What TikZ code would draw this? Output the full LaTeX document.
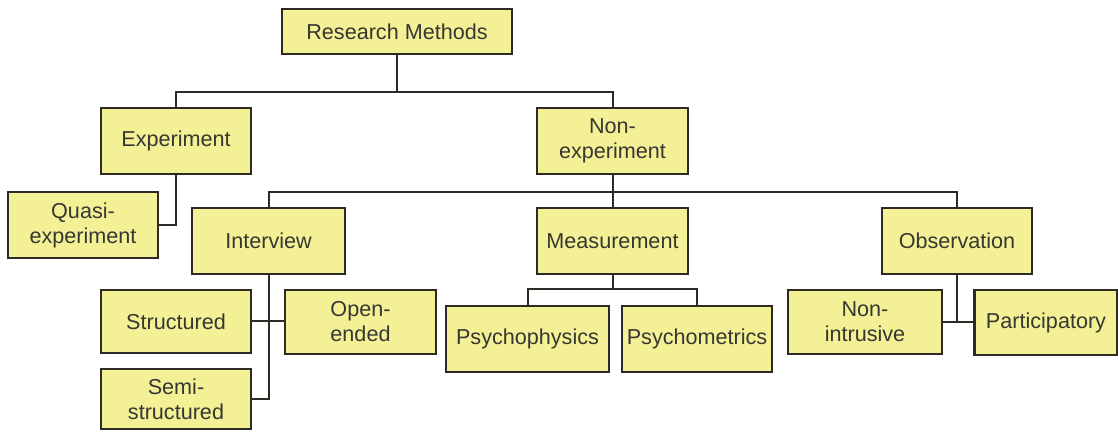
\documentclass[tikz,border=0pt]{standalone}
\usepackage{fontspec}
\setmainfont{Liberation Sans}
\usepackage{tikz}
\definecolor{boxfill}{RGB}{243,240,150}
\definecolor{boxline}{RGB}{45,43,35}
\definecolor{boxtext}{RGB}{55,55,50}

\begin{document}
\begin{tikzpicture}[x=0.5pt, y=-0.5pt,
		methodbox/.style={draw=boxline, line width=1.25pt, fill=boxfill, text=boxtext,
			minimum width=75pt, minimum height=33pt, inner sep=2pt, align=center,
			font=\fontsize{10.8}{12.5}\selectfont},
		link/.style={draw=boxline, line width=1pt}]
			%%%%% START %%%%%
			
			\useasboundingbox (0, 0) rectangle (1118, 432);
			
			\node[methodbox, minimum width=115pt, minimum height=22.5pt] (research) at (397, 31.5) {Research Methods};
			
			\node[methodbox] (experiment) at (176, 141) {Experiment};
			\node[methodbox, minimum width=75.5pt] (nonexp) at (612.5, 141) {Non-\\experiment};
			\node[methodbox] (quasi) at (83, 225) {Quasi-\\experiment};
			
			\node[methodbox, minimum width=76.5pt] (interview) at (268.5, 241) {Interview};
			\node[methodbox, minimum width=75.5pt] (measurement) at (612.5, 241) {Measurement};
			\node[methodbox] (observation) at (957, 241) {Observation};
			
			\node[methodbox, minimum height=31.5pt] (structured) at (176, 321.5) {Structured};
			\node[methodbox, minimum width=75.5pt, minimum height=32pt] (openended) at (360.5, 322) {Open-\\ended};
			\node[methodbox, minimum height=30pt] (semi) at (176, 399) {Semi-\\structured};
			
			\node[methodbox, minimum width=81.5pt] (psychophysics) at (527.5, 339) {Psychophysics};
			\node[methodbox] (psychometrics) at (697, 339) {Psychometrics};
			
			\node[methodbox, minimum width=77pt, minimum height=32pt] (nonintrusive) at (865, 322) {Non-\\intrusive};
			\node[methodbox, minimum width=71.5pt, minimum height=32.5pt] (participatory) at (1046, 322.5) {Participatory};
			
			\coordinate (bar1) at (0, 92);
			\coordinate (bar2) at (0, 192);
			\coordinate (bar3) at (0, 289);
			
			\draw[link] (research.south) -- (research.south |- bar1);
			\draw[link] (experiment.north) |- (nonexp.north |- bar1) -- (nonexp.north);
			\draw[link] (experiment.south) |- (quasi.east);
			
			\draw[link] (nonexp.south) -- (measurement.north);
			\draw[link] (interview.north) |- (observation.north |- bar2) -- (observation.north);
			
			\draw[link] (interview.south) |- (semi.east);
			\draw[link] (structured.east) -- (structured.east -| openended.west);
			
			\draw[link] (measurement.south) -- (measurement.south |- bar3);
			\draw[link] (psychophysics.north) |- (psychometrics.north |- bar3) -- (psychometrics.north);
			
			\draw[link] (observation.south) -- (observation.south |- nonintrusive.east);
			\draw[link] (nonintrusive.east) -- (nonintrusive.east -| participatory.west);
			
			%%%%% END %%%%%
		\end{tikzpicture}
\end{document}
